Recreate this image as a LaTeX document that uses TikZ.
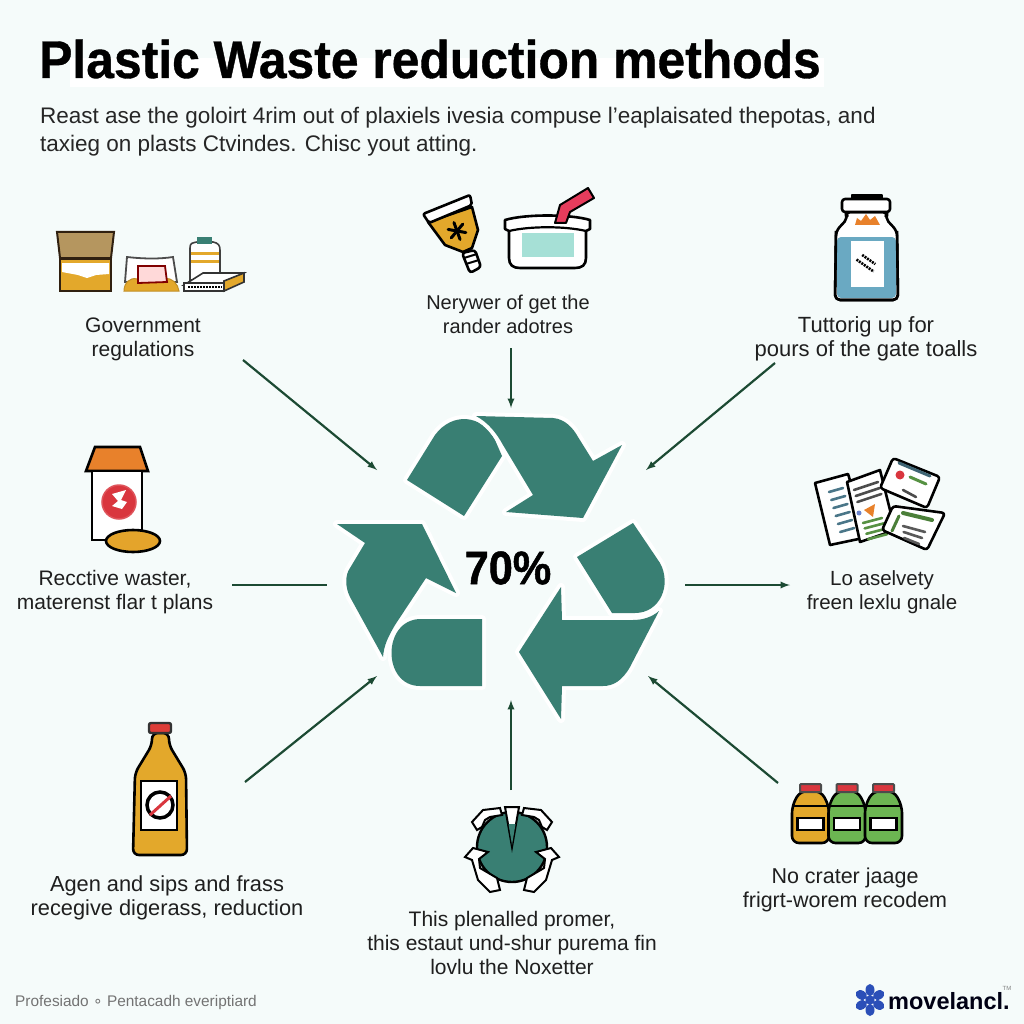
\documentclass[tikz,border=0pt]{standalone}
\usepackage{fontspec}
\setmainfont{Liberation Sans}
\newfontfamily\symfont{DejaVu Sans}
\newfontfamily\titlefont[FakeBold=0.7,FakeStretch=0.94]{Liberation Sans Bold}
\newfontfamily\hubfont[FakeBold=1,FakeStretch=0.92]{Liberation Sans Bold}
\definecolor{bgcol}{HTML}{F5FBFA}
\definecolor{recycol}{HTML}{397F73}
\definecolor{arrowcol}{HTML}{1C4A33}
\definecolor{goldcol}{HTML}{E3A82B}
\definecolor{greencol}{HTML}{6CB552}
\definecolor{redcol}{HTML}{D9363E}
\definecolor{strawcol}{HTML}{E63C5C}
\definecolor{mintcol}{HTML}{A6E0D6}
\definecolor{bluecol}{HTML}{6AA9C2}
\definecolor{orangecol}{HTML}{E8812B}
\definecolor{tancol}{HTML}{B5965F}
\definecolor{logocol}{HTML}{2B4FB8}
\tikzset{
 lbl/.style={font=\fontsize{#1}{24}\selectfont, align=center, inner sep=0pt, text=black!88},
 para/.style={font=\fontsize{22.5}{28}\selectfont, align=left, inner sep=0pt, text=black!85, anchor=west},
 arr/.style={-latex, draw=arrowcol, line width=2.2pt},
 recyc/.style={fill=recycol, preaction={draw=white, line width=8pt, line join=round}},
 ico/.style={draw=black, line width=2.6pt, line join=round},
 bar/.style={line width=2.6pt, line cap=round}
}
\begin{document}
\begin{tikzpicture}[x=1pt, y=-1pt]
 \useasboundingbox (0,0) rectangle (1024,1024);
 \fill[bgcol] (0,0) rectangle (1024,1024);
 \fill[white] (70,58) rectangle (824,87);

 \draw node[inner sep=0pt, anchor=base west, font=\fontsize{53}{56}\selectfont\titlefont] (title) at (39,78) {Plastic Waste reduction methods};
 \draw node[para] (intro) at (40,132) {Reast ase the goloirt 4rim out of plaxiels ivesia compuse l'eaplaisated thepotas, and\\taxieg on plasts Ctvindes. Chisc yout atting.};

 \draw node[lbl=21] (gov) at (143,339) {Government\\regulations};
 \draw node[lbl=20] (ner) at (508,314) {Nerywer of get the\\rander adotres};
 \draw node[lbl=22] (tut) at (866,339) {Tuttorig up for\\pours of the gate toalls};
 \draw node[lbl=21] (rec) at (115,592) {Recctive waster,\\materenst flar t plans};
 \draw node[lbl=20.5] (low) at (882,592) {Lo aselvety\\freen lexlu gnale};
 \draw node[lbl=21.8] (agen) at (167,898) {Agen and sips and frass\\recegive digerass, reduction};
 \draw node[lbl=21] (thi) at (512,943) {This plenalled promer,\\this estaut und-shur purema fin\\lovlu the Noxetter};
 \draw node[lbl=21.5] (noc) at (845,890) {No crater jaage\\frigrt-worem recodem};
 \draw node[inner sep=0pt, anchor=west, text=black!55, font=\fontsize{15.4}{20}\selectfont] (foot) at (15,1003) {Profesiado {\symfont ∘} Pentacadh everiptiard};
 \draw node[inner sep=0pt, anchor=west, text=black!92!blue, font=\fontsize{23.5}{30}\selectfont\bfseries] (mark) at (888,1001) {movelancl.};
 \draw node[inner sep=0pt, text=black!50, font=\fontsize{6}{7}\selectfont] (tm) at (1007,988) {TM};

 \fill[recyc] (407,480) -- (435,435) .. controls (452,412) and (482,414) .. (495,440) -- (502,456) -- (464,516) -- cycle;
 \fill[recyc] (476,416) -- (553,418) .. controls (565,419) and (573,428) .. (578,437) -- (593,461) -- (622,445) -- (583,518) -- (506,512) -- (533,495) -- (503,445) .. controls (497,434) and (489,423) .. (476,416) -- cycle;
 \fill[recyc] (577,557) -- (633,523) -- (660,563) .. controls (672,585) and (660,613) .. (635,613) -- (612,613) -- cycle;
 \fill[recyc] (659,611) -- (630,667) .. controls (622,681) and (613,686) .. (603,686) -- (562,686) -- (561,719) -- (519,652) -- (561,587) -- (562,620) -- (633,620) .. controls (643,620) and (652,617) .. (659,611) -- cycle;
 \fill[recyc] (482,619) -- (420,619) .. controls (382,620) and (382,686) .. (420,686) -- (482,686) -- cycle;
 \fill[recyc] (383,657) -- (350,597) .. controls (345,587) and (345,575) .. (350,568) -- (365,543) -- (337,524) -- (422,524) -- (456,593) -- (426,578) -- (395,625) .. controls (388,637) and (384,645) .. (383,657) -- cycle;
 \draw node[inner sep=0pt, font=\fontsize{47}{50}\selectfont\hubfont] (hub) at (508,568) {70\%};

 \coordinate (a1) at (243,360); \coordinate (a2) at (377,470);
 \coordinate (b1) at (511,348); \coordinate (b2) at (511,408);
 \coordinate (c1) at (775,363); \coordinate (c2) at (646,470);
 \coordinate (d1) at (232,585); \coordinate (d2) at (327,585);
 \coordinate (e1) at (685,585); \coordinate (e2) at (790,585);
 \coordinate (f1) at (245,782); \coordinate (f2) at (377,676);
 \coordinate (g1) at (511,790); \coordinate (g2) at (511,700);
 \coordinate (h1) at (778,783); \coordinate (h2) at (648,676);
 \draw[arr] (a1)--(a2);
 \draw[arr] (b1)--(b2);
 \draw[arr] (c1)--(c2);
 \draw[arr, -] (d1)--(d2);
 \draw[arr] (e1)--(e2);
 \draw[arr] (f1)--(f2);
 \draw[arr] (g1)--(g2);
 \draw[arr] (h1)--(h2);

 \filldraw[draw=black!75!brown, line width=2pt, fill=tancol] (57,232) -- (114,232) -- (111,258) -- (60,258) -- cycle;
 \filldraw[draw=black!75!brown, line width=2pt, fill=goldcol] (60,259) rectangle (111,291);
 \fill[white] (62,263) -- (109,263) -- (109,274) -- (96,275) -- (87,278) -- (78,275) -- (62,272) -- cycle;
 \filldraw[draw=black!70, line width=1.8pt, fill=white] (127,257) .. controls (145,259) and (160,259) .. (173,257) -- (177,282) -- (125,282) -- cycle;
 \filldraw[draw=goldcol!85!black, line width=1pt, fill=goldcol] (124,291) .. controls (124,283) and (130,277) .. (137,279) -- (165,279) .. controls (172,277) and (178,284) .. (179,291) -- cycle;
 \filldraw[draw=red!50!black, line width=1.8pt, fill=white!85!red] (138,266) -- (165,266) -- (167,282) -- (138,283) -- cycle;
 \filldraw[draw=black!75, line width=1.6pt, fill=white] (190,280) -- (190,248) .. controls (190,243) and (192,243) .. (197,242) -- (213,242) .. controls (218,243) and (220,245) .. (220,250) -- (220,280) -- cycle;
 \fill[recycol] (197,237) rectangle (212,244);
 \fill[goldcol] (191,252) rectangle (219,255);
 \fill[goldcol] (191,260) rectangle (219,263);
 \filldraw[draw=black!80, line width=1.6pt, fill=white] (184,285) -- (203,273) -- (244,273) -- (224,285) -- cycle;
 \filldraw[draw=black!80, line width=1.6pt, fill=goldcol] (224,281) -- (244,273) -- (244,282) -- (224,291) -- cycle;
 \filldraw[draw=black!80, line width=1.6pt, fill=white] (184,283) rectangle (224,291);
 \draw[black, line width=2pt, dash pattern=on 2pt off 1pt] (188,287) -- (222,287);

 \filldraw[ico, fill=goldcol] (428,222) -- (472,207) -- (478,230) -- (472,248) -- (463,252) -- (445,245) -- cycle;
 \filldraw[ico, fill=white, rounded corners=2pt] (423,214) -- (470,195) -- (472,205) -- (429,223) -- cycle;
 \foreach \ang in {10,70,130,190,250,310} \draw[black, line width=3pt, line cap=round] (457,231) -- ++(\ang:9);
 \filldraw[ico, fill=white, rounded corners=3pt] (462,253) -- (475,250) -- (481,267) -- (470,273) -- cycle;
 \draw[black, line width=2pt] (464,258) -- (477,254);
 \draw[black, line width=2pt] (466,264) -- (479,260);
 \filldraw[ico, fill=white] (505,220) .. controls (525,214) and (570,214) .. (590,220) -- (590,229) -- (586,231) -- (586,258) .. controls (586,265) and (582,268) .. (575,268) -- (520,268) .. controls (513,268) and (509,265) .. (509,258) -- (509,231) -- (505,229) -- cycle;
 \draw[black, line width=2.2pt] (509,231) .. controls (530,226) and (565,226) .. (586,231);
 \fill[mintcol] (522,233) rectangle (574,257);
 \filldraw[ico, fill=strawcol, line width=2pt] (555,223) -- (560,205) -- (588,188) -- (594,198) -- (570,212) -- (566,223) -- cycle;

 \filldraw[ico, fill=white, rounded corners=5pt] (845,212) -- (848,218) -- (836,231) -- (835,300) -- (898,300) -- (897,231) -- (885,218) -- (888,212) -- cycle;
 \fill[bluecol, rounded corners=4pt] (837,237) -- (896,237) -- (896,298) -- (837,298) -- cycle;
 \draw[ico, rounded corners=5pt] (836,231) -- (835,300) -- (898,300) -- (897,231);
 \filldraw[ico, fill=black] (852,195) rectangle (882,199);
 \filldraw[ico, fill=white, rounded corners=3pt] (842,199) rectangle (890,212);
 \fill[orangecol] (855,225) -- (857,218) -- (861,221) -- (866,214) -- (870,220) -- (875,216) -- (880,225) -- cycle;
 \fill[white] (851,241) rectangle (884,287);
 \draw[black, line width=2.6pt, rotate around={-35:(867,262)}, dash pattern=on 2pt off 1pt] (859,259) -- (875,259);
 \draw[black, line width=2.6pt, rotate around={-35:(867,262)}, dash pattern=on 2pt off 1pt] (857,266) -- (878,266);

 \filldraw[ico, fill=white] (815,483) -- (848,474) -- (868,537) -- (830,545) -- cycle;
 \foreach \yy in {0,8,...,40} \draw[bar, bluecol!70!black] (829+\yy*0.28,492+\yy) -- (843+\yy*0.28,488+\yy);
 \filldraw[ico, fill=white] (847,482) -- (880,470) -- (895,530) -- (860,542) -- cycle;
 \foreach \yy in {0,6,12} \draw[bar, black!70] (854+\yy*0.28,490+\yy) -- (878+\yy*0.28,482+\yy);
 \fill[orangecol] (864,510) -- (875,504) -- (873,517) -- cycle;
 \fill[logocol!70] (859,513) circle (2.5);
 \foreach \yy in {0,6,12,18} \draw[bar, greencol!80!black] (863+\yy*0.28,523+\yy*0.9) -- (882+\yy*0.28,518+\yy*0.9);
 \filldraw[ico, fill=white, rounded corners=3pt] (887,472) -- (893,458) -- (940,477) -- (927,508) -- (880,488) -- cycle;
 \draw[bar, bluecol!60!black, line width=3pt] (899,463) -- (930,476);
 \draw[bar, greencol!80!black, line width=3pt] (910,477) -- (926,484);
 \fill[redcol] (900,475) circle (4.5);
 \draw[bar, black!70] (903,490) -- (916,497);
 \filldraw[ico, fill=white, rounded corners=3pt] (882,530) -- (893,506) -- (945,513) -- (927,550) -- cycle;
 \draw[bar, greencol!70!black, line width=4pt] (903,513) -- (932,520);
 \draw[bar, greencol!70!black, line width=3pt] (892,531) -- (899,516);
 \foreach \yy in {0,6,12} \draw[bar, black!65] (903+\yy*0.1,526+\yy) -- (925-\yy*0.5,532+\yy);

 \filldraw[draw=black, line width=2.6pt, fill=orangecol] (95,447) -- (140,447) -- (148,471) -- (86,471) -- cycle;
 \filldraw[draw=black, line width=2.6pt, fill=white] (92,471) rectangle (142,540);
 \filldraw[draw=redcol!85!white, line width=1.5pt, fill=redcol] (119,502) circle (17);
 \fill[white] (112,494) -- (126,490) -- (121,500) -- (127,502) -- (122,509) -- (112,506) -- (118,501) -- cycle;
 \filldraw[draw=black, line width=2.6pt, fill=goldcol!90!orangecol] (133,541) ellipse (27 and 11);

 \filldraw[draw=black, line width=2.6pt, fill=goldcol, rounded corners=6pt] (152,733) -- (152,745) -- (135,773) -- (133,855) -- (187,855) -- (186,773) -- (169,745) -- (169,733) -- cycle;
 \filldraw[draw=black!80, line width=2.4pt, fill=redcol!90!orange, rounded corners=2pt] (149,723) rectangle (171,733);
 \filldraw[draw=black, line width=2pt, fill=white] (141,781) rectangle (177,830);
 \draw[black, line width=3.5pt] (160,805) circle (13);
 \draw[redcol, line width=3pt] (150,815) -- (171,796);

 \fill[recycol] (512,847) circle (35);
 \draw[black, line width=2.4pt] (512,847) circle (35);
 \filldraw[draw=black, line width=2pt, fill=white] (505,807) -- (519,807) -- (512,847) -- cycle;
 \fill[recycol] (508.5,824) -- (515.5,824) -- (512,845) -- cycle;
 \foreach \sx in {1,-1} {
  \begin{scope}[shift={(512,0)}, xscale=\sx]
   \filldraw[draw=black, line width=2pt, fill=white] (-35,830) -- (-40,822) -- (-29,810) -- (-12,808) -- (-10,815) -- (-22,817) -- (-27,820) -- (-30,827) -- cycle;
   \filldraw[draw=black, line width=2pt, fill=white] (-47,857) -- (-39,848) -- (-24,852) -- (-33,859) -- (-32,868) -- (-15,878) -- (-12,890) -- (-22,892) -- (-34,880) -- (-40,860) -- cycle;
  \end{scope}
 }

 \foreach \dx/\botcol in {0/goldcol, 36.5/greencol, 73/greencol} {
  \filldraw[draw=black, line width=2.6pt, fill=\botcol, rounded corners=7pt] (800+\dx,791) -- (792+\dx,806) -- (792+\dx,843) -- (829+\dx,843) -- (829+\dx,806) -- (821+\dx,791) -- cycle;
  \filldraw[draw=black!70, line width=2pt, fill=redcol, rounded corners=1pt] (800+\dx,784) rectangle (821+\dx,792);
  \draw[black, line width=2pt] (792+\dx,806) -- (829+\dx,806);
  \filldraw[draw=black, line width=2.2pt, fill=white] (797.5+\dx,818) rectangle (823.5+\dx,830);
 }

 \foreach \ang in {0,60,...,300} \fill[logocol, rotate around={\ang+30:(870,1000)}] (880,1000) ellipse (6 and 4.5);
 \fill[logocol] (870,1000) circle (5);
 \foreach \ang in {0,60,...,300} \fill[white] (870,1000) ++(\ang:5) circle (0.8);
\end{tikzpicture}
\end{document}
